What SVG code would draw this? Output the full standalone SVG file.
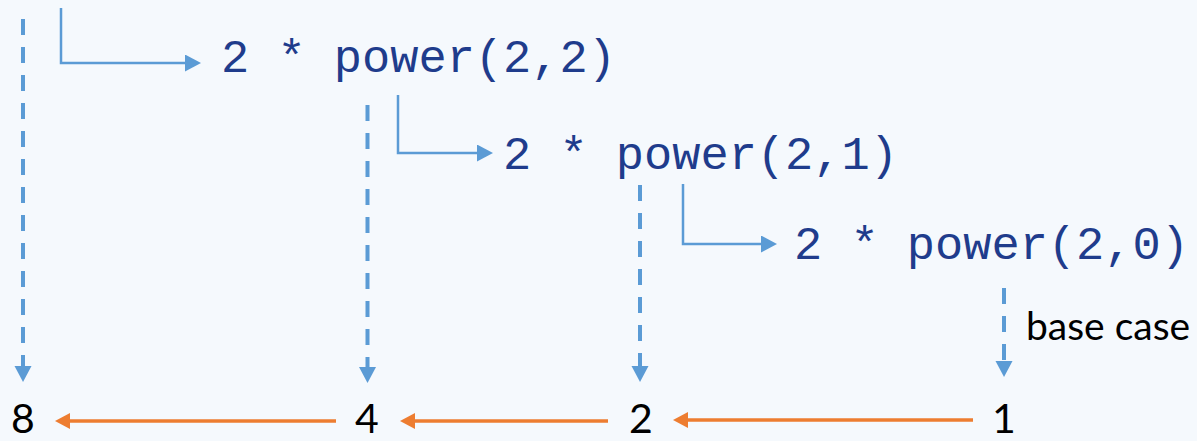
<svg xmlns="http://www.w3.org/2000/svg" width="1197" height="441" viewBox="0 0 1197 441">
  <style>
    .code { font-family: "Liberation Mono", "Courier New", monospace; font-size: 47px; fill: #1F3C8C; }
    .num { font-family: Lato, "Liberation Sans", sans-serif; font-size: 41px; fill: #000000; text-anchor: middle; }
    .lbl { font-family: Lato, "Liberation Sans", sans-serif; font-size: 39px; fill: #000000; }
    .call { fill: none; stroke: #5B9BD5; stroke-width: 2.5; marker-end: url(#blueSmall); }
    .ret { fill: none; stroke: #5B9BD5; stroke-width: 4; stroke-dasharray: 16 12; marker-end: url(#blueBig); }
    .up { fill: none; stroke: #ED7D31; stroke-width: 3.5; marker-end: url(#orange); }
  </style>
  <defs>
    <marker id="blueSmall" markerUnits="userSpaceOnUse" markerWidth="16" markerHeight="18" refX="0" refY="8.5" orient="auto">
      <path d="M0,0 L16,8.5 L0,17 z" fill="#5B9BD5"/>
    </marker>
    <marker id="blueBig" markerUnits="userSpaceOnUse" markerWidth="16" markerHeight="18" refX="0" refY="8.5" orient="auto">
      <path d="M0,0 L16,8.5 L0,17 z" fill="#5B9BD5"/>
    </marker>
    <marker id="orange" markerUnits="userSpaceOnUse" markerWidth="16" markerHeight="18" refX="0" refY="8" orient="auto">
      <path d="M0,0 L15,8 L0,16 z" fill="#ED7D31"/>
    </marker>
  </defs>
  <rect width="1197" height="441" fill="#F5F9FD"/>

  <g id="connectors">
    <path class="call" d="M61,8 V63 H185"/>
    <path class="call" d="M398,95 V153 H477"/>
    <path class="call" d="M683,184 V244 H761"/>
    <path class="ret" d="M23,19 V366"/>
    <path class="ret" d="M367.5,105 V367"/>
    <path class="ret" d="M640,185 V366"/>
    <path class="ret" d="M1004,288 V361"/>
    <path class="up" d="M336,421 H70"/>
    <path class="up" d="M608,421 H415"/>
    <path class="up" d="M973,420 H688"/>
  </g>

  <g id="call1"><text class="code" x="221" y="72">2 * power(2,2)</text></g>
  <g id="call2"><text class="code" x="503" y="169">2 * power(2,1)</text></g>
  <g id="call3"><text class="code" x="794" y="259">2 * power(2,0)</text></g>
  <g id="base-label"><text class="lbl" x="1026" y="340">base case</text></g>
  <g id="result8"><text class="num" x="23" y="433">8</text></g>
  <g id="result4"><text class="num" x="367" y="433">4</text></g>
  <g id="result2"><text class="num" x="641" y="433">2</text></g>
  <g id="result1"><text class="num" x="1004" y="433">1</text></g>
</svg>
